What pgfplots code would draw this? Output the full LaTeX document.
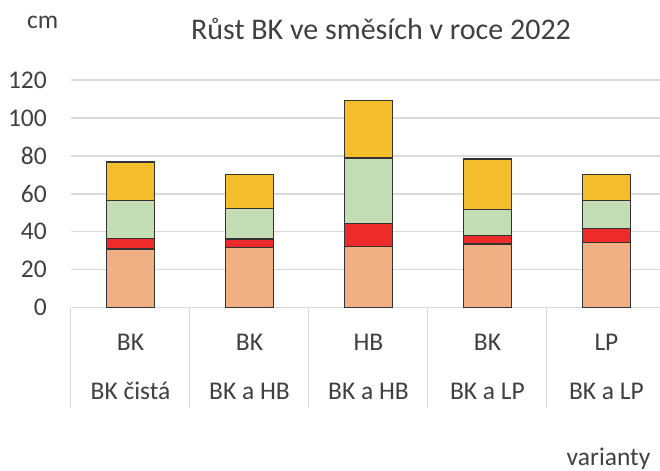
\documentclass[border=0pt]{standalone}
\usepackage{fontspec}
\setmainfont{Carlito}
\usepackage{pgfplots}
\pgfplotsset{compat=1.18}
\definecolor{cSalmon}{HTML}{F0B084}
\definecolor{cRed}{HTML}{EE2B2B}
\definecolor{cGreen}{HTML}{C5DDB5}
\definecolor{cGold}{HTML}{F4BD2B}
\definecolor{cGrid}{HTML}{D9D9D9}
\definecolor{cText}{HTML}{404040}
\definecolor{cEdge}{HTML}{333333}
\begin{document}
\begin{tikzpicture}
\begin{axis}[
  at={(0,0)}, anchor=south west,
  scale only axis,
  width=589bp, height=227.7bp,
  xmin=-0.5, xmax=4.45,
  ymin=0, ymax=120,
  ytick={0,20,...,120},
  xtick=\empty,
  ymajorgrids,
  grid style={draw=cGrid, line width=1.3bp},
  axis line style={draw=none},
  major tick length=0pt,
  /pgf/number format/assume math mode=true,
  yticklabel style={font=\fontsize{25.5bp}{30bp}\selectfont, text=cText, anchor=east, inner sep=0pt, xshift=-24bp},
  ybar stacked,
  bar width=48bp,
  clip=false,
  every axis plot/.append style={draw=cEdge, line width=1.4bp},
]
\addplot[fill=cSalmon] coordinates {(0,31.0) (1,31.6) (2,32.4) (3,33.6) (4,34.5)};
\addplot[fill=cRed] coordinates {(0,5.5) (1,4.6) (2,12.1) (3,4.5) (4,7.3)};
\addplot[fill=cGreen] coordinates {(0,20.0) (1,16.2) (2,34.4) (3,13.8) (4,14.8)};
\addplot[fill=cGold] coordinates {(0,20.2) (1,17.7) (2,30.2) (3,26.5) (4,13.5)};
% category separators
\pgfplotsinvokeforeach{-0.5,0.5,1.5,2.5,3.5}{
  \draw[cGrid, line width=1bp] (axis cs:#1,0) -- ([yshift=-100bp]axis cs:#1,0);
}
% category labels
\tikzset{catlab/.style={anchor=base, font=\fontsize{25.5bp}{30bp}\selectfont, text=cText, inner sep=0pt}}
\node[catlab] at ([yshift=-42.3bp]axis cs:0,0) {BK};
\node[catlab] at ([yshift=-42.3bp]axis cs:1,0) {BK};
\node[catlab] at ([yshift=-42.3bp]axis cs:2,0) {HB};
\node[catlab] at ([yshift=-42.3bp]axis cs:3,0) {BK};
\node[catlab] at ([yshift=-42.3bp]axis cs:4,0) {LP};
\node[catlab] at ([yshift=-91.3bp]axis cs:0,0) {BK čistá};
\node[catlab] at ([yshift=-91.3bp]axis cs:1,0) {BK a HB};
\node[catlab] at ([yshift=-91.3bp]axis cs:2,0) {BK a HB};
\node[catlab] at ([yshift=-91.3bp]axis cs:3,0) {BK a LP};
\node[catlab] at ([yshift=-91.3bp]axis cs:4,0) {BK a LP};
\end{axis}
\node[anchor=base, font=\fontsize{30bp}{34bp}\selectfont, text=cText, inner sep=0pt] at (310bp,267.7bp) {Růst BK ve směsích v roce 2022};
\node[anchor=base west, font=\fontsize{25.5bp}{30bp}\selectfont, text=cText, inner sep=0pt] at (-44bp,279.4bp) {cm};
\node[anchor=base, font=\fontsize{25.5bp}{30bp}\selectfont, text=cText, inner sep=0pt] at (537.5bp,-158bp) {varianty};
\pgfresetboundingbox
\path[use as bounding box] (-71bp,-163.3bp) rectangle (589bp,307.7bp);
\end{tikzpicture}
\end{document}
